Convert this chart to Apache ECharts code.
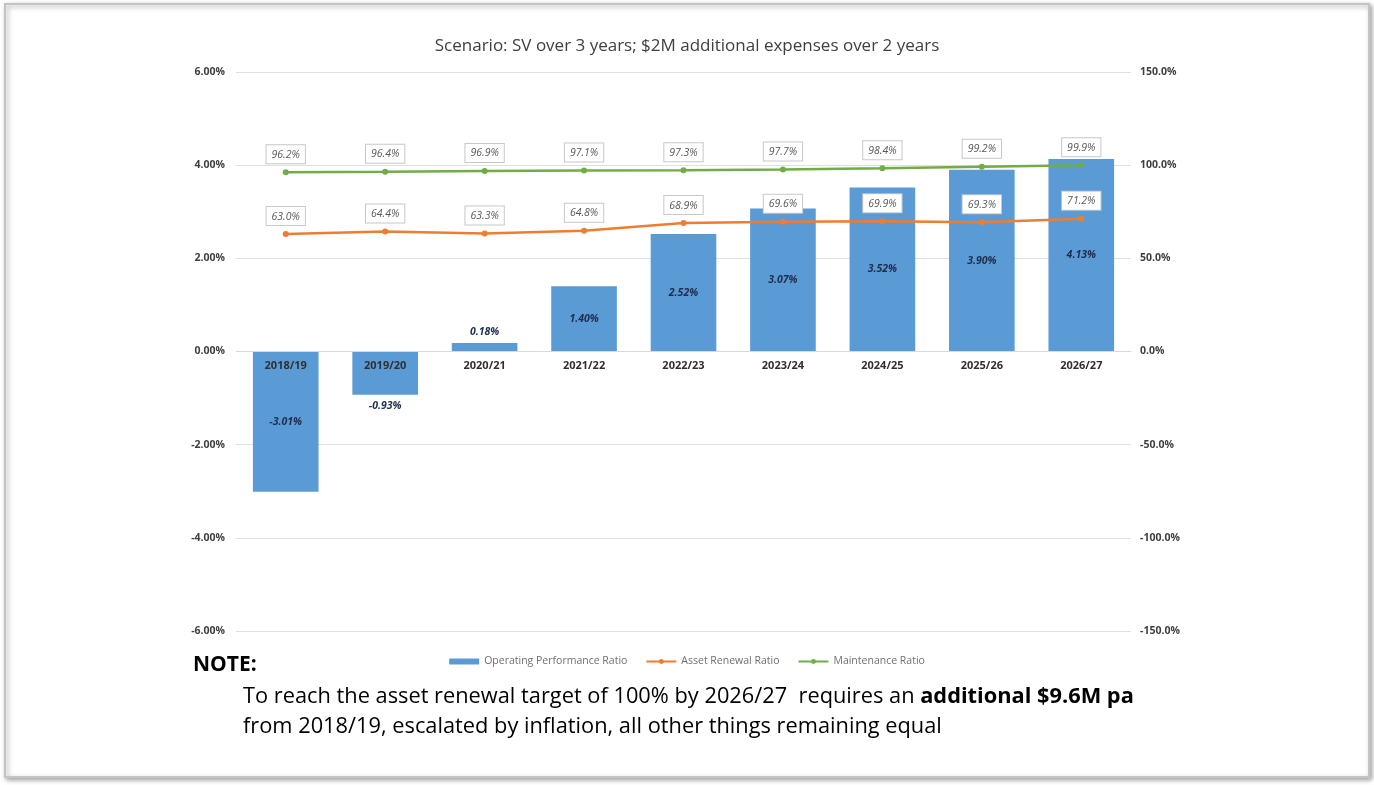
<!DOCTYPE html>
<html><head><meta charset="utf-8">
<script src="https://cdn.jsdelivr.net/npm/echarts@6/dist/echarts.min.js"></script>
<style>html,body{margin:0;padding:0;background:#fff}#c{width:1374px;height:785px}</style>
</head><body><div id="c"></div>
<script>
const categories = ['2018/19','2019/20','2020/21','2021/22','2022/23','2023/24','2024/25','2025/26','2026/27'];
const operatingPerformance = [-3.01, -0.93, 0.18, 1.40, 2.52, 3.07, 3.52, 3.90, 4.13];
const assetRenewal = [63.0, 64.4, 63.3, 64.8, 68.9, 69.6, 69.9, 69.3, 71.2];
const maintenance = [96.2, 96.4, 96.9, 97.1, 97.3, 97.7, 98.4, 99.2, 99.9];
const titleText = 'Scenario: SV over 3 years; $2M additional expenses over 2 years';
const seriesNames = ['Operating Performance Ratio', 'Asset Renewal Ratio', 'Maintenance Ratio'];

const FONT = 'Open Sans';
const GRID_TOP = 72, GRID_BOTTOM = 154, H = 785;
const chart = echarts.init(document.getElementById('c'));

const leftMin = -6, leftMax = 6;
// move the category axis up to the zero line of the value axis
const plotH = H - GRID_TOP - GRID_BOTTOM;
const zeroOffset = -plotH * (0 - leftMin) / (leftMax - leftMin);

const barData = operatingPerformance.map(v => ({
  value: v,
  label: { position: Math.abs(v) < 1 ? (v < 0 ? 'bottom' : 'top') : 'inside' }
}));

const boxLabel = {
  show: true, position: 'top', distance: 6,
  formatter: p => p.value.toFixed(1) + '%',
  fontFamily: FONT, fontSize: 10.5, fontStyle: 'italic', color: '#595959',
  backgroundColor: '#fff', borderColor: '#c8c8c8', borderWidth: 1, padding: [4, 5, 3, 5]
};

chart.setOption({
  animation: false,
  title: {
    text: titleText, left: 'center', top: 33,
    textStyle: { fontFamily: FONT, fontSize: 17, fontWeight: 'normal', color: '#404040' }
  },
  grid: { left: 236, right: 243, top: GRID_TOP, bottom: GRID_BOTTOM },
  legend: {
    top: 651, left: 'center', itemGap: 18, itemWidth: 30, itemHeight: 6,
    textStyle: { fontFamily: FONT, fontSize: 10.5, color: '#707070' },
    data: [
      { name: seriesNames[0], icon: 'rect' },
      { name: seriesNames[1] },
      { name: seriesNames[2] }
    ]
  },
  xAxis: {
    type: 'category', data: categories, z: 5,
    offset: zeroOffset,
    axisLine: { onZero: false, lineStyle: { color: '#d9d9d9' } },
    axisTick: { show: false },
    axisLabel: { fontFamily: FONT, fontSize: 11, fontWeight: 'bold', color: '#303030', margin: 9 }
  },
  yAxis: [
    {
      type: 'value', min: leftMin, max: leftMax, interval: 2,
      axisLine: { show: false }, axisTick: { show: false },
      axisLabel: { formatter: v => v.toFixed(2) + '%', fontFamily: FONT, fontSize: 10.5, fontWeight: 'bold', color: '#404040', margin: 11 },
      splitLine: { lineStyle: { color: '#e0e0e0' } }
    },
    {
      type: 'value', min: -150, max: 150, interval: 50,
      axisLine: { show: false }, axisTick: { show: false },
      axisLabel: { formatter: v => v.toFixed(1) + '%', fontFamily: FONT, fontSize: 10.5, fontWeight: 'bold', color: '#404040', margin: 9 },
      splitLine: { show: false }
    }
  ],
  series: [
    {
      name: seriesNames[0], type: 'bar', data: barData, barWidth: '66%',
      itemStyle: { color: '#5B9BD5' },
      label: {
        show: true, formatter: p => p.value.toFixed(2) + '%', distance: 6,
        fontFamily: FONT, fontSize: 10.5, fontStyle: 'italic', fontWeight: 'bold', color: '#1F2D4D'
      }
    },
    {
      name: seriesNames[1], type: 'line', yAxisIndex: 1, data: assetRenewal,
      symbol: 'circle', symbolSize: 6,
      itemStyle: { color: '#ED7D31' }, lineStyle: { color: '#ED7D31', width: 2.5 },
      label: boxLabel, z: 4
    },
    {
      name: seriesNames[2], type: 'line', yAxisIndex: 1, data: maintenance,
      symbol: 'circle', symbolSize: 6,
      itemStyle: { color: '#70AD47' }, lineStyle: { color: '#70AD47', width: 2.5 },
      label: boxLabel, z: 4
    }
  ],
  graphic: [
    {
      type: 'rect', z: -10, silent: true,
      shape: { x: 5, y: 4, width: 1364, height: 773 },
      style: { fill: '#fff', stroke: '#c4c4c4', lineWidth: 2, shadowBlur: 5, shadowColor: 'rgba(0,0,0,0.35)', shadowOffsetX: 2, shadowOffsetY: 2 }
    },
    {
      type: 'text', left: 193, top: 655,
      style: { text: 'NOTE:', font: 'bold 21px "Open Sans"', fill: '#000' }
    },
    {
      type: 'text', left: 243, top: 686,
      style: {
        text: '{n|To reach the asset renewal target of 100% by 2026/27  requires an }{b|additional $9.6M pa}\n{n|from 2018/19, escalated by inflation, all other things remaining equal}',
        rich: {
          n: { fontFamily: FONT, fontSize: 21.8, color: '#222', lineHeight: 30 },
          b: { fontFamily: FONT, fontSize: 21.8, fontWeight: 'bold', color: '#111', lineHeight: 30 }
        }
      }
    }
  ]
});
</script></body></html>
